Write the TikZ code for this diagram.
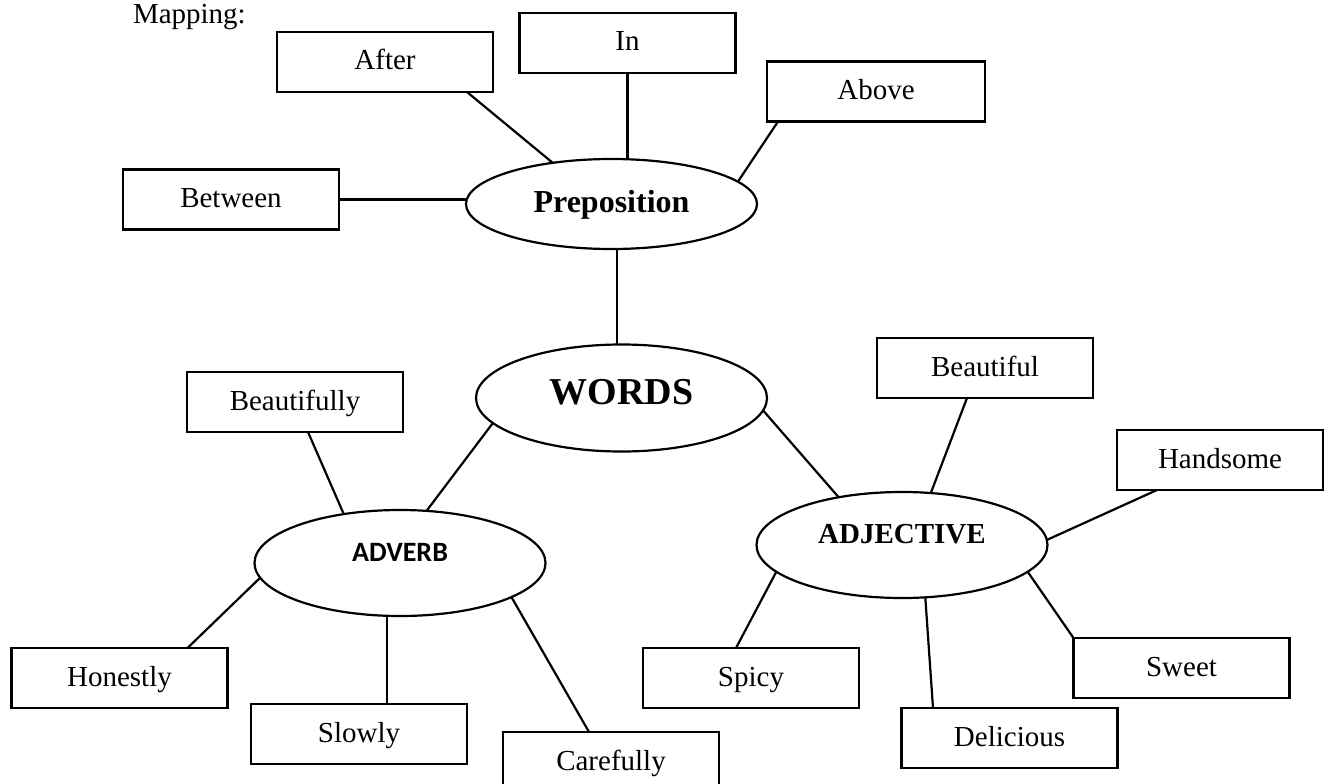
\documentclass[tikz,border=0pt]{standalone}
\usepackage{fontspec}
\setmainfont{Liberation Serif}
\newfontfamily\calibrifont{Carlito}
\usetikzlibrary{shapes.geometric,calc}

\begin{document}
\begin{tikzpicture}[x=1pt,y=-1pt,
  every node/.style={inner sep=0pt, outer sep=0pt},
  wordbox/.style={draw, line width=2.6pt, minimum width=216pt, minimum height=60pt,
    font=\fontsize{29}{34}\selectfont, text height=21pt, text depth=5pt},
  hub/.style={draw, ellipse, line width=2.2pt, minimum width=291pt, minimum height=106pt},
  link/.style={line width=2.2pt}]

\useasboundingbox (0,0) rectangle (1325,784);
\clip (0,0) rectangle (1325,784);

% heading
\node[anchor=base west, font=\fontsize{29}{34}\selectfont] (title) at (133,24) {Mapping:};

% central ellipses
\node[hub, minimum height=90pt, font=\fontsize{32}{38}\selectfont\bfseries,
      text height=22pt, text depth=6pt] (prep) at (611.5,204) {Preposition};
\node[hub, minimum height=107pt, font=\fontsize{38}{44}\selectfont\bfseries,
      text height=26pt, text depth=14pt] (words) at (621.5,398) {WORDS};
\node[hub, font=\calibrifont\fontsize{28}{32}\selectfont\bfseries,
      text height=14pt, text depth=18pt] (adverb) at (400,563) {ADVERB};
\node[hub, font=\fontsize{29}{34}\selectfont\bfseries,
      text height=16pt, text depth=20pt] (adjective) at (902,545) {ADJECTIVE};

% word boxes
\node[wordbox] (after) at (385,62) {After};
\node[wordbox] (in) at (627.5,43) {In};
\node[wordbox, minimum width=218pt] (above) at (876,91.5) {Above};
\node[wordbox] (between) at (231,199.5) {Between};
\node[wordbox] (beautifully) at (295,402) {Beautifully};
\node[wordbox] (beautiful) at (985,368) {Beautiful};
\node[wordbox, minimum width=206pt] (handsome) at (1220,460) {Handsome};
\node[wordbox] (honestly) at (119.5,678) {Honestly};
\node[wordbox] (slowly) at (359,734) {Slowly};
\node[wordbox] (carefully) at (611,762) {Carefully};
\node[wordbox] (spicy) at (751,678) {Spicy};
\node[wordbox] (delicious) at (1009.5,738) {Delicious};
\node[wordbox] (sweet) at (1181.5,668) {Sweet};

% preposition branch
\draw[link] (between.east) -- (prep.west |- between.east);
\draw[link] ($(after.south east)+(-26,0)$) -- (prep.145);
\draw[link] (in.south) -- (in.south |- prep.north);
\draw[link] ($(above.south west)+(11,0)$) -- (prep.10);
\coordinate (stem) at (617,0);
\draw[link] (prep.south -| stem) -- (words.north -| stem);

% main links
\draw[link] (words.191) -- (adverb.63);
\draw[link] (words.355) -- (adjective.143);

% adverb branch
\draw[link] ($(beautifully.south)+(13,0)$) -- (adverb.139);
\draw[link] ($(honestly.north east)+(-40,0)$) -- (adverb.186);
\coordinate (sl) at ($(slowly.north)+(28,0)$);
\draw[link] (sl) -- (sl |- adverb.south);
\draw[link] ($(carefully.north)+(-22,0)$) -- (adverb.343);

% adjective branch
\draw[link] ($(beautiful.south)+(-18,0)$) -- (adjective.61);
\draw[link] ($(handsome.south)+(-63,0)$) -- (adjective.2);
\draw[link] (sweet.north west) -- (adjective.348);
\draw[link] ($(delicious.north)+(-76.5,0)$) -- (adjective.294);
\draw[link] ($(spicy.north)+(-15,0)$) -- (adjective.192);
\end{tikzpicture}
\end{document}
